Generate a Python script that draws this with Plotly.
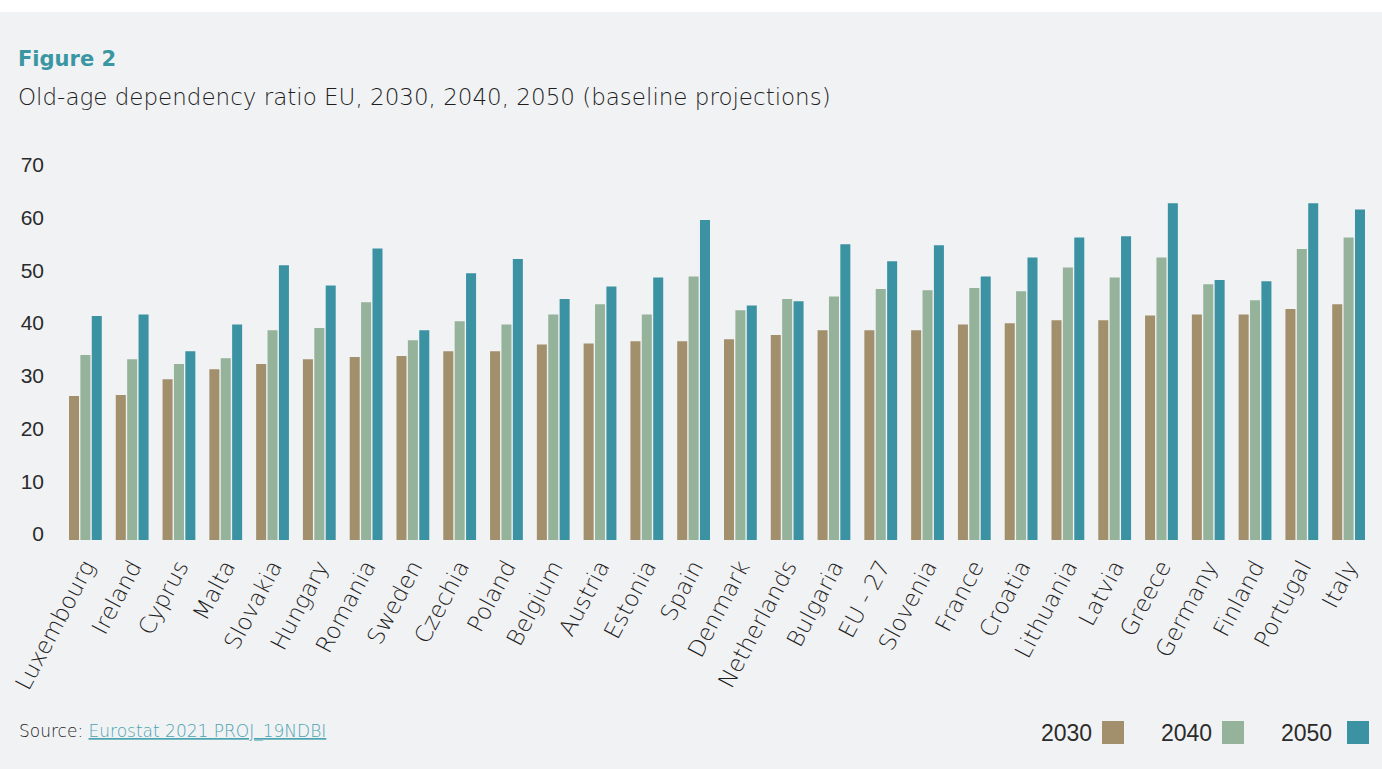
import plotly.graph_objects as go

countries = ["Luxembourg", "Ireland", "Cyprus", "Malta", "Slovakia", "Hungary", "Romania",
             "Sweden", "Czechia", "Poland", "Belgium", "Austria", "Estonia", "Spain",
             "Denmark", "Netherlands", "Bulgaria", "EU - 27", "Slovenia", "France",
             "Croatia", "Lithuania", "Latvia", "Greece", "Germany", "Finland",
             "Portugal", "Italy"]

v2030 = [27.3, 27.5, 30.5, 32.4, 33.4, 34.3, 34.7, 34.9, 35.8, 35.8, 37.1, 37.3, 37.7, 37.7,
         38.1, 38.9, 39.8, 39.8, 39.8, 40.9, 41.1, 41.7, 41.7, 42.6, 42.8, 42.8, 43.8, 44.7]
v2040 = [35.1, 34.3, 33.4, 34.5, 39.8, 40.2, 45.1, 37.9, 41.5, 40.9, 42.8, 44.7, 42.8, 50.0,
         43.6, 45.7, 46.2, 47.6, 47.4, 47.8, 47.2, 51.7, 49.8, 53.6, 48.5, 45.5, 55.2, 57.4]
v2050 = [42.5, 42.8, 35.8, 40.9, 52.1, 48.3, 55.3, 39.8, 50.6, 53.3, 45.7, 48.1, 49.8, 60.7,
         44.5, 45.3, 56.1, 52.9, 55.9, 50.0, 53.6, 57.4, 57.6, 63.9, 49.3, 49.1, 63.9, 62.7]

series_names = ["2030", "2040", "2050"]
colors = ["#a28f6c", "#95b29b", "#3b92a2"]
yticks = [0, 10, 20, 30, 40, 50, 60, 70]

BG = "#f1f2f4"
TEXT = "#2b2b2b"
LIGHT_TEXT = "#1e1e1e"

L, R, T, B = 62, 10, 171, 229
W, H = 1382, 769
pw = W - L - R
ph = H - T - B
base_px = H - B


def px_x(x):
    return (x - L) / pw


def px_y(y):
    return (base_px - y) / ph


fig = go.Figure()
for name, vals, col in zip(series_names, [v2030, v2040, v2050], colors):
    fig.add_trace(go.Bar(x=countries, y=vals, name=name, marker_color=col,
                         marker_line_width=0, showlegend=False))

fig.update_layout(
    width=W, height=H,
    paper_bgcolor=BG, plot_bgcolor=BG,
    margin=dict(l=L, r=R, t=T, b=B),
    barmode="group", bargap=0.27, bargroupgap=0.12,
    font=dict(family="Liberation Sans, Arial, sans-serif", color=TEXT),
    xaxis=dict(tickangle=-62,
               tickfont=dict(family="DejaVu Sans", size=23, weight=200, color=LIGHT_TEXT),
               showgrid=False, showline=False, zeroline=False, ticks="",
               ticklabelstandoff=8),
    yaxis=dict(range=[0, 70], tickvals=yticks, ticktext=[str(t) for t in yticks],
               tickfont=dict(size=21, color=TEXT), showgrid=False, zeroline=False,
               showline=False, ticks="", ticklabelstandoff=17, ticklabelshift=-6),
)

# white strip at top of page
fig.add_shape(type="rect", xref="paper", yref="paper", x0=-0.1, x1=1.1,
              y0=px_y(12), y1=px_y(-20), fillcolor="white", line_width=0, layer="below")

# Title and subtitle
fig.add_annotation(text="<b>Figure 2</b>", xref="paper", yref="paper", x=px_x(16), y=px_y(59),
                   xanchor="left", yanchor="middle", showarrow=False,
                   font=dict(family="DejaVu Sans", size=21, weight=700, color="#3b96a3"))
fig.add_annotation(text="Old-age dependency ratio EU, 2030, 2040, 2050 (baseline projections)",
                   xref="paper", yref="paper", x=px_x(16), y=px_y(97),
                   xanchor="left", yanchor="middle", showarrow=False,
                   font=dict(family="DejaVu Sans", size=23, weight=200, color=LIGHT_TEXT))

# Source
fig.add_annotation(text="Source: <a href='https://ec.europa.eu/eurostat' style='color:#4aa3b0'><u>Eurostat 2021 PROJ_19NDBI</u></a>",
                   xref="paper", yref="paper", x=px_x(17), y=px_y(731),
                   xanchor="left", yanchor="middle", showarrow=False,
                   font=dict(family="DejaVu Sans", size=17, weight=200, color=LIGHT_TEXT))

# Custom legend (label left of square)
legend_text_right = [1094, 1214, 1334]
legend_sq_left = [1102, 1222, 1347]
for name, col, tr, sl in zip(series_names, colors, legend_text_right, legend_sq_left):
    fig.add_annotation(text=name, xref="paper", yref="paper", x=px_x(tr),
                       y=px_y(733), xanchor="right", yanchor="middle", showarrow=False,
                       font=dict(family="Liberation Sans, Arial, sans-serif", size=23, color=TEXT))
    fig.add_shape(type="rect", xref="paper", yref="paper",
                  x0=px_x(sl), x1=px_x(sl + 22),
                  y0=px_y(744), y1=px_y(721),
                  fillcolor=col, line_width=0)

fig.write_html("out.html")
